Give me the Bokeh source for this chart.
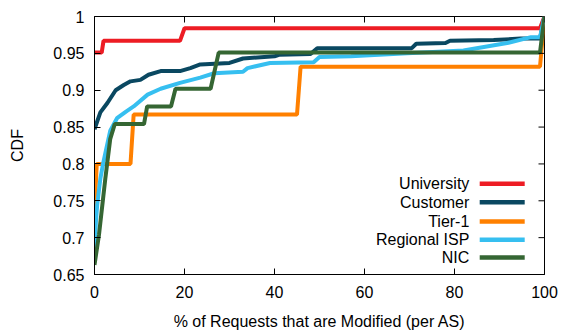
import math
from bokeh.plotting import figure
from bokeh.models import Range1d, FixedTicker, Label
from bokeh.embed import file_html
from bokeh.resources import INLINE

# ---- data ----
series_names = ["University", "Customer", "Tier-1", "Regional ISP", "NIC"]
series_colors = ["#ed1c24", "#0a4861", "#ff8000", "#36bff0", "#356633"]

university_x = [0, 1.6, 2.0, 19.0, 20.0, 99.0, 100]
university_y = [0.951, 0.951, 0.967, 0.967, 0.984, 0.984, 1.0]

customer_x = [0, 1.3, 2.9, 4.7, 6.5, 8.0, 10.2, 12.0, 14.7, 19.0, 21.3, 23.5, 30.0, 33.0,
              40.0, 41.0, 48.0, 49.5, 70.5, 71.5, 78.0, 79.0, 88.7, 94.7, 99.0, 100]
customer_y = [0.847, 0.870, 0.883, 0.900, 0.907, 0.912, 0.914, 0.921, 0.926, 0.926, 0.930,
              0.935, 0.937, 0.943, 0.946, 0.948, 0.949, 0.957, 0.957, 0.963, 0.964, 0.967,
              0.968, 0.970, 0.970, 1.0]

tier1_x = [0, 0.5, 8.0, 8.7, 45.0, 45.8, 99.0, 100]
tier1_y = [0.736, 0.800, 0.800, 0.867, 0.867, 0.932, 0.932, 1.0]

regional_x = [0, 0.3, 0.6, 1.3, 2.0, 2.6, 3.5, 5.0, 7.0, 8.7, 11.8, 14.7, 19.0, 23.5, 26.6,
              33.0, 34.0, 39.0, 48.7, 50.0, 57.0, 69.5, 82.0, 91.7, 97.0, 99.0, 100]
regional_y = [0.680, 0.720, 0.745, 0.780, 0.803, 0.820, 0.845, 0.862, 0.871, 0.878, 0.894,
              0.902, 0.910, 0.917, 0.923, 0.925, 0.930, 0.937, 0.938, 0.945, 0.946, 0.950,
              0.954, 0.964, 0.972, 0.972, 1.0]

nic_x = [0, 1.0, 2.4, 3.5, 4.5, 11.0, 11.7, 17.0, 18.0, 25.8, 27.6, 99.0, 100]
nic_y = [0.663, 0.704, 0.780, 0.834, 0.854, 0.854, 0.878, 0.878, 0.902, 0.902, 0.951, 0.951, 1.0]

x_ticks = [0, 20, 40, 60, 80, 100]
x_tick_labels = ["0", "20", "40", "60", "80", "100"]
y_ticks = [0.65, 0.7, 0.75, 0.8, 0.85, 0.9, 0.95, 1.0]
y_tick_labels = ["0.65", "0.7", "0.75", "0.8", "0.85", "0.9", "0.95", "1"]

x_label = "% of Requests that are Modified (per AS)"
y_label = "CDF"

FONT = "Liberation Sans"
FS = "16px"

p = figure(width=563, height=332, output_backend="svg", toolbar_location=None,
           x_range=Range1d(0, 100), y_range=Range1d(0.65, 1.0),
           min_border_left=94, min_border_right=19, min_border_top=16, min_border_bottom=55)
p.grid.visible = False
p.outline_line_color = "black"
p.outline_line_width = 1
p.background_fill_color = "white"

xs = [university_x, customer_x, tier1_x, regional_x, nic_x]
ys = [university_y, customer_y, tier1_y, regional_y, nic_y]
for x, y, c in zip(xs, ys, series_colors):
    p.line(x, y, line_color=c, line_width=4)

# main axes
xa = p.xaxis[0]
xa.ticker = FixedTicker(ticks=x_ticks)
xa.major_label_overrides = {t: l for t, l in zip(x_ticks, x_tick_labels)}
xa.axis_label = x_label
ya = p.yaxis[0]
ya.ticker = FixedTicker(ticks=y_ticks)
ya.major_label_overrides = {t: l for t, l in zip(y_ticks, y_tick_labels)}
ya.axis_label = y_label
for ax in (xa, ya):
    ax.major_tick_in = 6
    ax.major_tick_out = 0
    ax.minor_tick_line_color = None
    ax.axis_line_color = "black"
    ax.major_tick_line_color = "black"
    ax.major_label_text_font = FONT
    ax.major_label_text_font_size = FS
    ax.major_label_text_color = "black"
    ax.axis_label_text_font = FONT
    ax.axis_label_text_font_size = FS
    ax.axis_label_text_font_style = "normal"
    ax.axis_label_text_color = "black"
xa.major_label_standoff = 11
xa.axis_label_standoff = 12
ya.major_label_standoff = 10
ya.axis_label_standoff = 24

# mirrored inward ticks on top and right (gnuplot style)
p.ray(x=x_ticks, y=[1.0] * len(x_ticks), length=6, length_units="screen",
      angle=-math.pi / 2, line_color="black", line_width=1)
p.ray(x=[100] * len(y_ticks), y=y_ticks, length=6, length_units="screen",
      angle=math.pi, line_color="black", line_width=1)

# legend (label left of sample, gnuplot style)
leg_y = [0.773, 0.748, 0.722, 0.697, 0.673]
for name, c, yy in zip(series_names, series_colors, leg_y):
    p.segment(x0=[85.6], y0=[yy], x1=[95.6], y1=[yy], line_color=c, line_width=4.5)
    p.add_layout(Label(x=83.3, y=yy, text=name, text_align="right", text_baseline="middle",
                       text_font=FONT, text_font_size=FS, text_color="black"))

open("out.html", "w").write(file_html(p, INLINE))
